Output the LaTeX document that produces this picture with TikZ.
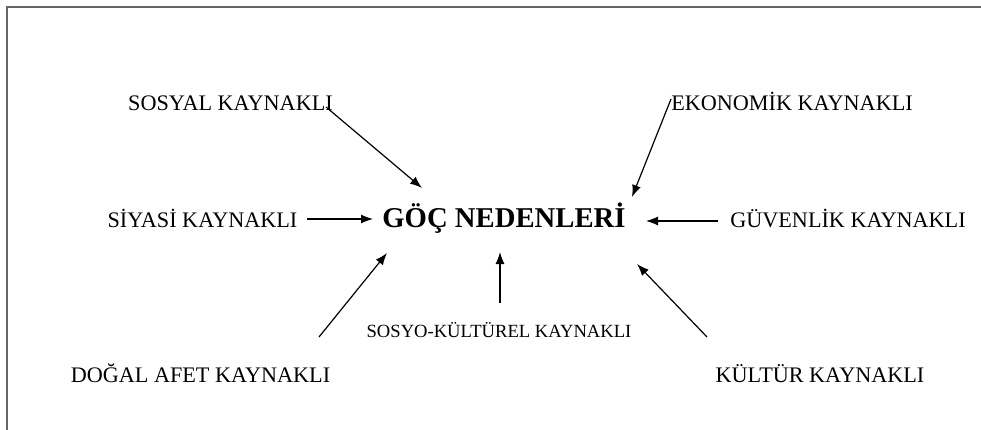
\documentclass[tikz,border=0pt]{standalone}
\usepackage{fontspec}
\setmainfont{Liberation Serif}
\usetikzlibrary{arrows.meta}
\begin{document}
\begin{tikzpicture}[x=1pt,y=-1pt,
	cause/.style={anchor=base,inner sep=0pt,font=\fontsize{22.2}{26}\selectfont},
	toarrow/.style={-{Latex[length=12pt,width=9pt]},line width=1.2pt}]
	\useasboundingbox (0,0) rectangle (981,430);
	%frame (left and top edges only are in view)
	\draw [color={rgb,255:red,102;green,102;blue,102},line width=1.8pt] (7,430) -- (7,7) -- (981,7);
	
	% Text Node
	\node (goc) [anchor=base,inner sep=0pt,font=\fontsize{28.7}{32}\selectfont\bfseries] at (504,227) {GÖÇ NEDENLERİ};
	% Text Node
	\node (sosyal) [cause] at (230.5,110.5) {SOSYAL KAYNAKLI};
	% Text Node
	\node (ekonomik) [cause] at (792,110.5) {EKONOMİK KAYNAKLI};
	% Text Node
	\node (siyasi) [cause] at (202.5,227) {SİYASİ KAYNAKLI};
	% Text Node
	\node (guvenlik) [cause] at (848,228) {GÜVENLİK KAYNAKLI};
	% Text Node
	\node (sosyo) [anchor=base,inner sep=0pt,font=\fontsize{18.6}{22}\selectfont] at (499,337) {SOSYO-KÜLTÜREL KAYNAKLI};
	% Text Node
	\node (dogal) [cause] at (200.5,382.5) {DOĞAL AFET KAYNAKLI};
	% Text Node
	\node (kultur) [cause] at (820,382.5) {KÜLTÜR KAYNAKLI};
	
	%arrow ends
	\coordinate (sosyal-s) at (326,107);
	\coordinate (sosyal-t) at (422,188);
	\coordinate (ekonomik-s) at (671,99);
	\coordinate (ekonomik-t) at (632,197);
	\coordinate (siyasi-s) at (307,219);
	\coordinate (siyasi-t) at (373,219);
	\coordinate (guvenlik-s) at (718,221);
	\coordinate (guvenlik-t) at (646,221);
	\coordinate (sosyo-s) at (500,303);
	\coordinate (sosyo-t) at (500,252);
	\coordinate (dogal-s) at (319,337);
	\coordinate (dogal-t) at (387,253);
	\coordinate (kultur-s) at (707,337);
	\coordinate (kultur-t) at (637,264);
	
	%Straight Lines
	\foreach \c in {sosyal,ekonomik,siyasi,guvenlik,sosyo,dogal,kultur}
		\draw [toarrow] (\c-s) -- (\c-t);
\end{tikzpicture}
\end{document}
